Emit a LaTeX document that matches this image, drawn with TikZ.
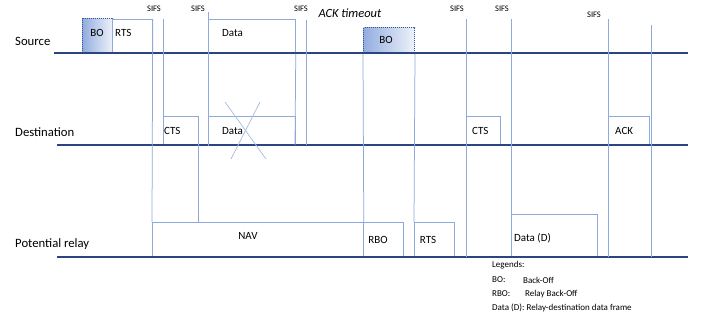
\documentclass[tikz,border=0pt]{standalone}
\usepackage{fontspec}
\setmainfont{Carlito}
\definecolor{lb}{HTML}{8EA9DB}
\definecolor{xb}{HTML}{A9BEE4}
\definecolor{tlc}{HTML}{2A4680}
\definecolor{bod}{HTML}{2F5597}
\definecolor{boa}{HTML}{93ADDF}
\definecolor{bob}{HTML}{EEF2FA}
\begin{document}
\begin{tikzpicture}[x=1pt,y=-1pt,
  tl/.style={draw=tlc,line width=1.3pt},
  vl/.style={draw=lb,line width=0.75pt},
  frame/.style={draw=lb,line width=0.75pt,rectangle,inner sep=0pt,anchor=north west},
  bobox/.style={draw=bod,densely dotted,line width=1pt,rectangle,inner sep=0pt,anchor=north west,left color=boa,right color=bob},
  rowlbl/.style={font=\fontsize{12.7}{14}\selectfont,anchor=west,inner sep=0pt},
  blbl/.style={font=\fontsize{11}{13}\selectfont,inner sep=0pt},
  sifs/.style={font=\fontsize{8.5}{10}\selectfont,inner sep=0pt},
  leg/.style={font=\fontsize{9}{10}\selectfont,anchor=west,inner sep=0pt}]
\useasboundingbox[fill=white] (0,0) rectangle (708,324);

% row labels
\node[rowlbl] (src) at (15,41) {Source};
\node[rowlbl] (dst) at (15,132) {Destination};
\node[rowlbl] (rel) at (15,244) {Potential relay};

% timelines
\coordinate (s0) at (54,53);  \coordinate (s1) at (688,53);
\coordinate (d0) at (57,145); \coordinate (d1) at (688,145);
\coordinate (r0) at (57,257); \coordinate (r1) at (688,257);

% frames: source
\node[bobox,minimum width=30,minimum height=35] (bo1) at (82,18) {};
\node[frame,minimum width=40,minimum height=34] (rts1) at (112,19) {};
\node[frame,minimum width=87,minimum height=34] (data1) at (208,19) {};
\node[bobox,minimum width=51,minimum height=26] (bo2) at (363,27) {};
% frames: destination
\node[frame,minimum width=35,minimum height=29] (cts1) at (163,116) {};
\node[frame,minimum width=87,minimum height=29] (data2) at (208,116) {};
\node[frame,minimum width=34,minimum height=29] (cts2) at (466,116) {};
\node[frame,minimum width=41,minimum height=29] (ack) at (608,116) {};
% frames: relay
\node[frame,minimum width=211,minimum height=35] (nav) at (152,222) {};
\node[frame,minimum width=40,minimum height=35] (rbo) at (363,222) {};
\node[frame,minimum width=40,minimum height=35] (rts2) at (414,222) {};
\node[frame,minimum width=86,minimum height=43] (datad) at (511,214) {};

% frame texts
\node[blbl] (tbo1) at (97,33) {BO};
\node[blbl,anchor=west] (trts1) at (115,33) {RTS};
\node[blbl,anchor=west] (tdata1) at (222,33) {Data};
\node[blbl] (tbo2) at (386,40) {BO};
\node[blbl,anchor=west] (tcts1) at (164,131) {CTS};
\node[blbl,anchor=west] (tdata2) at (222,131) {Data};
\node[blbl,anchor=west] (tcts2) at (472,131) {CTS};
\node[blbl,anchor=west] (tack) at (615,131) {ACK};
\node[blbl] (tnav) at (248,236) {NAV};
\node[blbl] (trbo) at (378,240) {RBO};
\node[blbl] (trts2) at (428,240) {RTS};
\node[blbl,anchor=west] (tdatad) at (514,238) {Data (D)};

% timelines drawn
\draw[tl] (s0) -- (s1);
\draw[tl] (d0) -- (d1);
\draw[tl] (r0) -- (r1);

% crossed-out data
\coordinate (x1a) at (225,102); \coordinate (x1b) at (266,159);
\coordinate (x2a) at (260,102); \coordinate (x2b) at (231,159);
\draw[draw=xb,line width=0.75pt] (x1a) -- (x1b);
\draw[draw=xb,line width=0.75pt] (x2a) -- (x2b);

% vertical lines
\coordinate (v163) at (163,19);
\coordinate (v208) at (208,12);
\coordinate (v295b) at (295,145);
\coordinate (v306a) at (306,20); \coordinate (v306b) at (306,145);
\coordinate (v466a) at (466,19); \coordinate (v466b) at (466,257);
\coordinate (v511a) at (511,19);
\coordinate (v608a) at (608,19); \coordinate (v608b) at (608,257);
\coordinate (v651a) at (651,25); \coordinate (v651b) at (651,257);
\draw[vl] (rts1.north east) -- (nav.north west);
\draw[vl] (v163) -- (cts1.north west);
\draw[vl] (cts1.north east) -- (cts1.north east |- nav.north);
\draw[vl] (v208) -- (data1.north west);
\draw[vl] (data1.north west) -- (data2.south west);
\draw[vl] (data1.south east) -- (v295b);
\draw[vl] (v306a) -- (v306b);
\draw[vl] (bo2.south west) -- (nav.north east);
\draw[vl] (bo2.south east) -- (rts2.north west);
\draw[vl] (v466a) -- (v466b);
\draw[vl] (v511a) -- (datad.north west);
\draw[vl] (v608a) -- (v608b);
\draw[vl] (v651a) -- (v651b);

% SIFS labels
\node[sifs] (sf1) at (154,9) {SIFS};
\node[sifs] (sf2) at (198,9) {SIFS};
\node[sifs] (sf3) at (301,9) {SIFS};
\node[sifs] (sf4) at (457,9) {SIFS};
\node[sifs] (sf5) at (502,9) {SIFS};
\node[sifs] (sf6) at (594,15) {SIFS};
\node[font=\fontsize{12.5}{14}\selectfont\itshape,inner sep=0pt] (ackto) at (350,13) {ACK timeout};

% legend
\node[leg] (lg0) at (492,265) {Legends:};
\node[leg] (lg1) at (492,280) {BO:};
\node[leg] (lg1b) at (523,280) {Back-Off};
\node[leg] (lg2) at (492,294) {RBO:};
\node[leg] (lg2b) at (525,294) {Relay Back-Off};
\node[leg] (lg3) at (492,308) {Data (D): Relay-destination data frame};
\end{tikzpicture}
\end{document}
